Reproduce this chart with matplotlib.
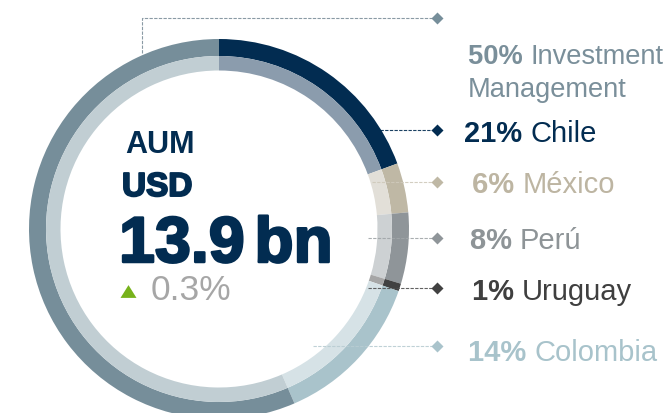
import matplotlib
matplotlib.use("Agg")
import matplotlib.pyplot as plt
import matplotlib.patheffects as pe

# ---- data ----
segments = ["Chile", "México", "Perú", "Uruguay", "Colombia", "Investment Management"]
wedge_share = [19.4, 4.2, 6.05, 0.65, 13.2, 56.5]          # share of ring as drawn (%)
label_pct = ["21%", "6%", "8%", "1%", "14%", "50%"]
label_name = ["Chile", "México", "Perú", "Uruguay", "Colombia", "Investment\nManagement"]
center_title = "AUM"
center_ccy = "USD"
center_value = "13.9"
center_unit = "bn"
center_change = "0.3%"

# ---- style ----
outer_colors = ["#022c51", "#bfb8a5", "#8f9599", "#414141", "#a9c3cb", "#768e9a"]
inner_colors = ["#8b9cad", "#e2dfd8", "#cdd1d3", "#a6a6a6", "#d6e2e6", "#c1ced3"]
text_colors = ["#022c51", "#bdb5a2", "#8e9497", "#3f3f3f", "#a8c3cb", "#7a8f9a"]
line_colors = ["#022c51", "#cfc9bb", "#a0a5a8", "#505050", "#b8ccd2", "#8a9aa4"]
NAVY = "#022c51"

W, H = 666, 414
fig = plt.figure(figsize=(W / 100, H / 100), dpi=100)
ax = fig.add_axes([0, 0, 1, 1])

def Y(py):
    return H - py

cx, cy = 219, Y(230)
R_out, w_out, w_in = 190, 17, 14.5

ax.pie(wedge_share, radius=R_out, center=(cx, cy), startangle=90,
       counterclock=False, colors=outer_colors,
       wedgeprops=dict(width=w_out, linewidth=0))
ax.pie(wedge_share, radius=R_out - w_out, center=(cx, cy), startangle=90,
       counterclock=False, colors=inner_colors,
       wedgeprops=dict(width=w_in, linewidth=0))

ax.set_xlim(0, W)
ax.set_ylim(0, H)
ax.set_aspect("equal")
ax.axis("off")

FONT = "Liberation Sans"

# leader lines + diamonds
diamond_x = 437
diamond_y = [131, 183, 239, 289, 347, 19]
line_start_x = [380, 372, 368, 368, 313, 142]
for i in range(len(segments)):
    yy = Y(diamond_y[i])
    if i == 5:
        ax.plot([line_start_x[i], line_start_x[i], diamond_x], [Y(54), yy, yy],
                color=line_colors[i], lw=0.8, ls=(0, (3, 1.2)), zorder=3)
    else:
        ax.plot([line_start_x[i], diamond_x], [yy, yy], color=line_colors[i],
                lw=0.8, ls=(0, (3, 1.2)), zorder=3, alpha=0.9)
    ax.plot(diamond_x, yy, marker="D", ms=6.2, color=outer_colors[i],
            mec="none", zorder=4)

# labels
fig.canvas.draw()
renderer = fig.canvas.get_renderer()
label_x = [464, 472, 470, 472, 468, 468]
label_base = [142, 193, 249, 300, 361, 64]
label_size = [21, 21, 21, 21, 21, 19.6]
for i in range(len(segments)):
    bx = label_x[i]
    by = Y(label_base[i])
    t = ax.text(bx, by, label_pct[i] + " ", fontsize=label_size[i], fontweight="bold",
                color=text_colors[i], family=FONT, va="baseline", ha="left")
    bb = t.get_window_extent(renderer)
    names = label_name[i].split("\n")
    ax.text(bx + bb.width, by, names[0], fontsize=label_size[i], color=text_colors[i],
            family=FONT, va="baseline", ha="left")
    for k, extra in enumerate(names[1:], start=1):
        ax.text(bx, by - 33 * k, extra, fontsize=label_size[i], color=text_colors[i],
                family=FONT, va="baseline", ha="left")

# center text
ax.text(125, Y(153), center_title, fontsize=22, fontweight="bold", color=NAVY,
        family=FONT, va="baseline", ha="left")
ax.text(122, Y(197), center_ccy, fontsize=24, fontweight="bold", color=NAVY,
        family=FONT, va="baseline", ha="left",
        path_effects=[pe.withStroke(linewidth=1.4, foreground=NAVY)])
thick = [pe.withStroke(linewidth=1.8, foreground=NAVY)]
ax.text(119, Y(263), center_value, fontsize=46.5, fontweight="bold", color=NAVY,
        family=FONT, va="baseline", ha="left", path_effects=thick)
ax.text(254.5, Y(263), center_unit[0], fontsize=46, fontweight="bold", color=NAVY,
        family=FONT, va="baseline", ha="left", path_effects=thick)
ax.text(293.6, Y(263), center_unit[1], fontsize=46, fontweight="bold", color=NAVY,
        family=FONT, va="baseline", ha="left", path_effects=thick)

ax.plot(128, Y(291.5), marker=[(-1, -0.8), (1, -0.8), (0, 0.8)], ms=11.5,
        color="#77b21b", mec="none")
ax.text(151, Y(300.5), center_change, fontsize=25.5, color="#a6a6a6",
        family=FONT, va="baseline", ha="left")

fig.savefig("out.png", dpi=100)
